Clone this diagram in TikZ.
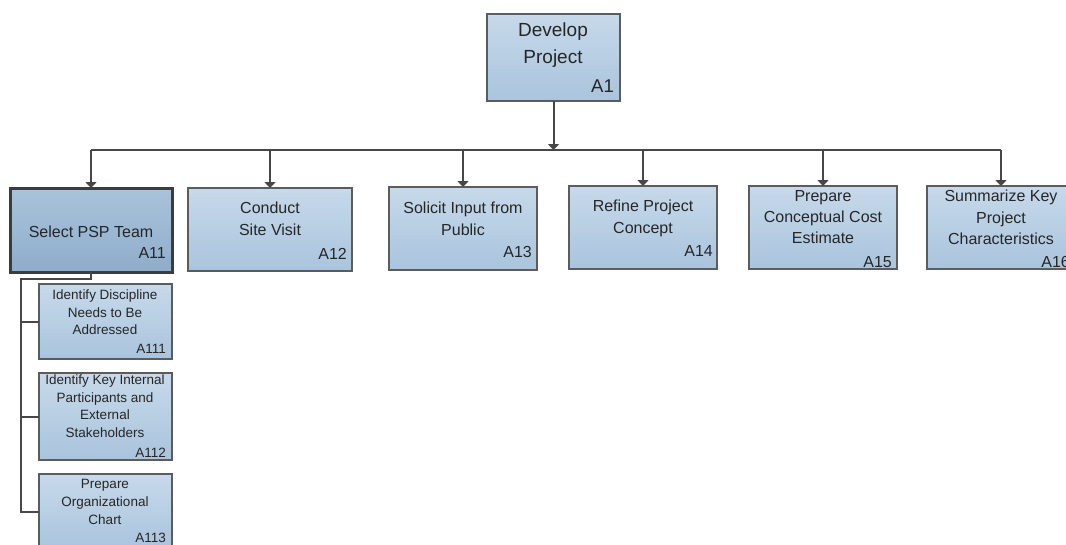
\documentclass[tikz,border=0pt]{standalone}
\usepackage{fontspec}
\setmainfont{Liberation Sans}
\usetikzlibrary{arrows.meta}

\definecolor{boxtop}{HTML}{C7D9EA}
\definecolor{boxbot}{HTML}{A9C4DD}
\definecolor{seltop}{HTML}{AAC3DB}
\definecolor{selbot}{HTML}{8EADCB}
\definecolor{boxline}{HTML}{5C5C5C}
\definecolor{selline}{HTML}{3C3C3C}
\definecolor{wire}{HTML}{474747}
\definecolor{ink}{HTML}{262626}

\tikzset{
  box/.style={draw=boxline, line width=1.3pt, top color=boxtop, bottom color=boxbot,
    anchor=north west, inner sep=0pt, outer sep=0pt},
  selbox/.style={box, draw=selline, line width=3pt, top color=seltop, bottom color=selbot},
  toptext/.style={text=ink, align=center, inner sep=0pt, anchor=north,
    font=\fontsize{19}{27}\selectfont, execute at begin node={\rule{0pt}{15pt}}},
  boxtext/.style={text=ink, align=center, inner sep=0pt, anchor=north,
    font=\fontsize{16}{21.3}\selectfont, execute at begin node={\rule{0pt}{12pt}}},
  subtext/.style={text=ink, align=center, inner sep=0pt, anchor=north,
    font=\fontsize{13.5}{17.7}\selectfont, execute at begin node={\rule{0pt}{10.5pt}}},
  toplabel/.style={text=ink, inner sep=0pt, anchor=base east, font=\fontsize{18.5}{22}\selectfont},
  boxlabel/.style={text=ink, inner sep=0pt, anchor=base east, font=\fontsize{16}{20}\selectfont},
  sublabel/.style={text=ink, inner sep=0pt, anchor=base east, font=\fontsize{13.5}{17}\selectfont},
  conn/.style={draw=wire, line width=2pt},
  down/.style={conn, -{Triangle[width=11pt,length=6pt]}},
}

\begin{document}
\begin{tikzpicture}[x=1pt, y=-1pt]
  \useasboundingbox (0,0) rectangle (1066,544);
  \clip (0,0) rectangle (1066,544);

  % top activity
  \node[box, minimum width=133pt, minimum height=87pt] (A1) at (487,14) {};
  \node[toptext] (A1t) at (553,23) {Develop\\Project};
  \node[toplabel] (A1l) at (614,92) {A1};

  % second level activities
  \node[selbox, minimum width=162pt, minimum height=84pt] (A11) at (10,188) {};
  \node[box, minimum width=164pt, minimum height=83pt] (A12) at (188,188) {};
  \node[box, minimum width=148pt, minimum height=83pt] (A13) at (389,187) {};
  \node[box, minimum width=148pt, minimum height=83pt] (A14) at (569,186) {};
  \node[box, minimum width=148pt, minimum height=83pt] (A15) at (749,186) {};
  \node[box, minimum width=148pt, minimum height=83pt] (A16) at (927,186) {};

  \node[boxtext] (A11t) at (91,225) {Select PSP Team};
  \node[boxtext] (A12t) at (270,202) {Conduct\\Site Visit};
  \node[boxtext] (A13t) at (463,202) {Solicit Input from\\Public};
  \node[boxtext] (A14t) at (643,200) {Refine Project\\Concept};
  \node[boxtext] (A15t) at (823,190) {Prepare\\Conceptual Cost\\Estimate};
  \node[boxtext] (A16t) at (1001,190) {Summarize Key\\Project\\Characteristics};

  \node[boxlabel] (A11l) at (166,258) {A11};
  \node[boxlabel] (A12l) at (347,259) {A12};
  \node[boxlabel] (A13l) at (532,257) {A13};
  \node[boxlabel] (A14l) at (713,256) {A14};
  \node[boxlabel] (A15l) at (892,267) {A15};
  \node[boxlabel] (A16l) at (1070,267) {A16};

  % third level activities under A11
  \node[box, minimum width=133pt, minimum height=75pt] (A111) at (39,284) {};
  \node[box, minimum width=133pt, minimum height=87pt] (A112) at (39,373) {};
  \node[box, minimum width=133pt, minimum height=75pt] (A113) at (39,474) {};

  \node[subtext] (A111t) at (105,289.5) {Identify Discipline\\Needs to Be\\Addressed};
  \node[subtext] (A112t) at (105,374.5) {Identify Key Internal\\Participants and\\External\\Stakeholders};
  \node[subtext] (A113t) at (105,479.5) {Prepare\\Organizational\\Chart};

  \node[sublabel] (A111l) at (166,353) {A111};
  \node[sublabel] (A112l) at (166,457) {A112};
  \node[sublabel] (A113l) at (166,542) {A113};

  % decomposition bus
  \coordinate (bus) at (553,150);
  \draw[down] (A1.south) -- (A1.south |- bus);
  \draw[conn] (A11.north |- bus) -- (A16.north |- bus);
  \foreach \n in {A11,A12,A13,A14,A15,A16}
    \draw[down] (\n.north |- bus) -- (\n.north);

  % trunk for the A11 breakdown
  \coordinate (trunk) at (21,279);
  \draw[conn] (A11.south) -- (A11.south |- trunk) -- (trunk) -- (trunk |- A113.west) -- (A113.west);
  \draw[conn] (trunk |- A111.west) -- (A111.west);
  \draw[conn] (trunk |- A112.west) -- (A112.west);
\end{tikzpicture}
\end{document}
